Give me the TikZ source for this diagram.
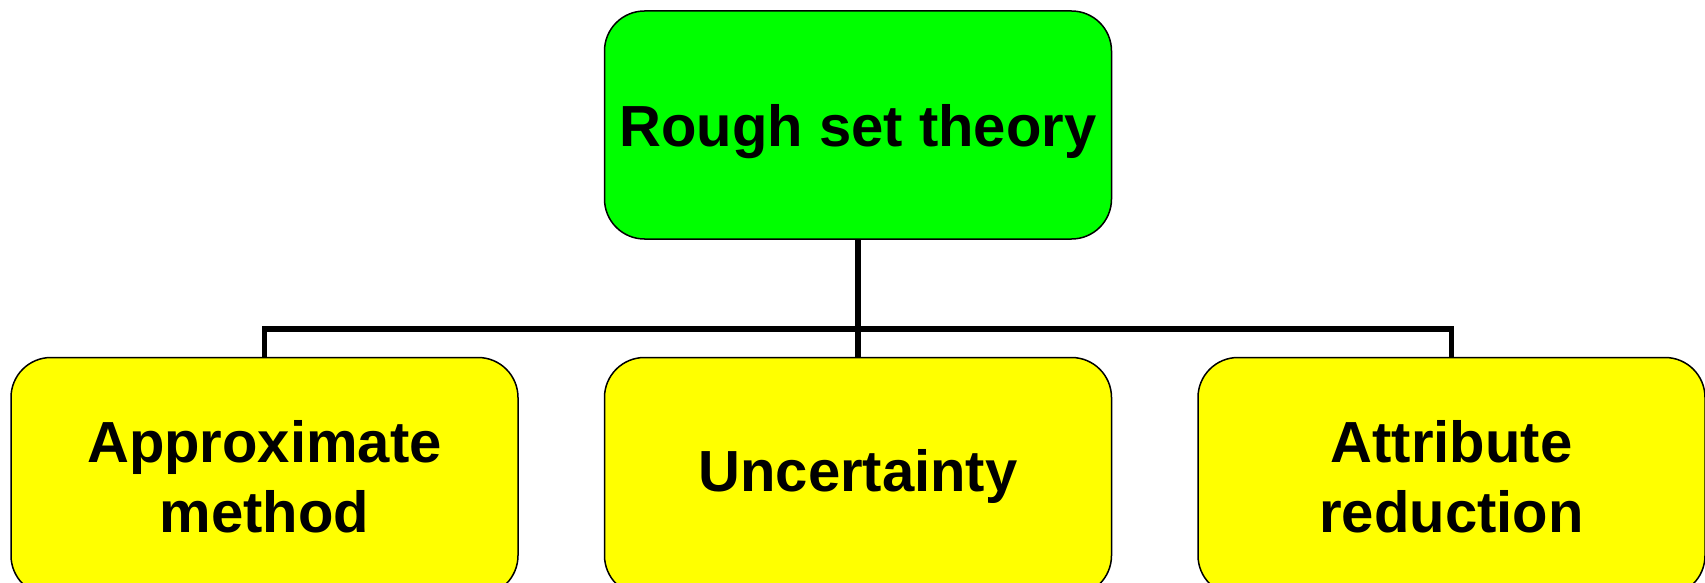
\documentclass[tikz,border=0pt]{standalone}
\usepackage{fontspec}
\setmainfont{Liberation Sans}
\usetikzlibrary{positioning}

\definecolor{rsgreen}{HTML}{00FF00}
\definecolor{rsyellow}{HTML}{FFFF00}

\begin{document}
\begin{tikzpicture}[x=1pt, y=-1pt, node distance=85pt,
                box/.style={draw, line width=1.5pt, rounded corners=40pt, align=center, inner sep=0pt,
                    font=\fontsize{58}{70}\selectfont\bfseries, minimum width=507pt, minimum height=228pt},
                rootbox/.style={box, fill=rsgreen, text depth=0pt},
                subbox/.style={box, fill=rsyellow, minimum height=238pt},
                link/.style={line width=5.5pt}]
                \clip (0,0) rectangle (1705,583);
                \node[rootbox] (root) at (858,125) {Rough set theory};
                \node[subbox, below=117pt of root] (mid) {Uncertainty};
                \node[subbox, left=of mid] (approx) {Approximate\\method};
                \node[subbox, right=of mid] (attr) {Attribute\\reduction};
                \coordinate (bar) at (858,329);
                \draw[link] (root) -- (mid);
                \draw[link] (approx.north) |- (bar) -| (attr.north);
            \end{tikzpicture}
\end{document}
